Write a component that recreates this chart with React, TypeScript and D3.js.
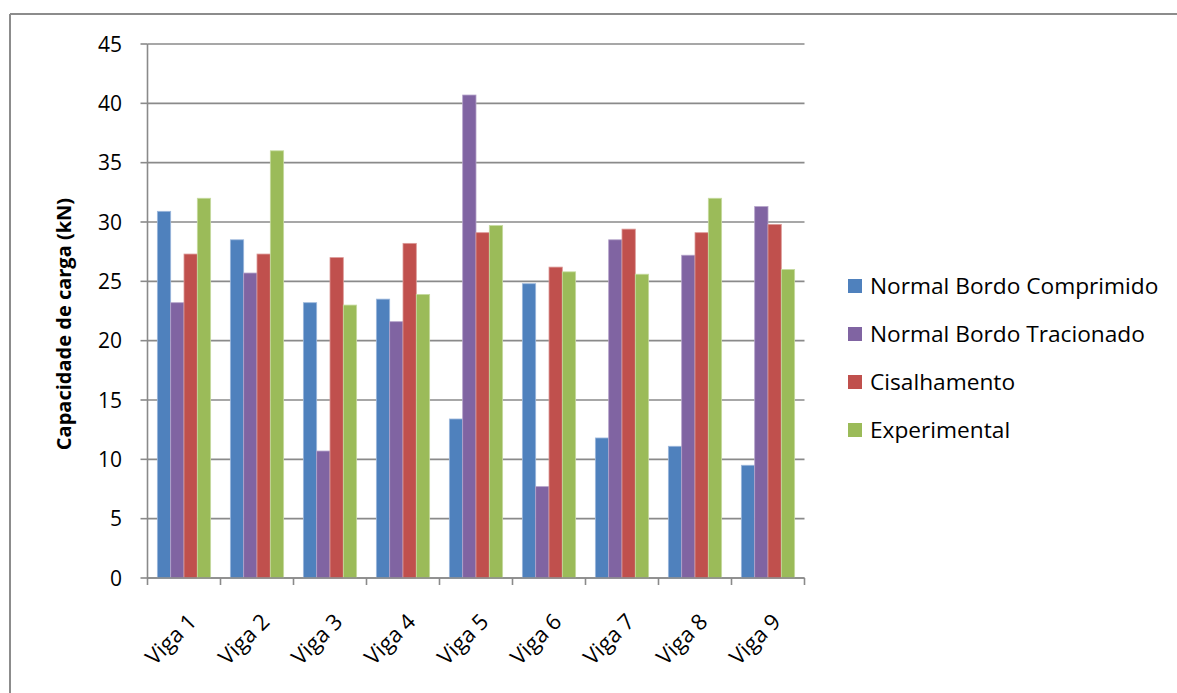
import React from "react";
import * as d3 from "d3";

const categories = ["Viga 1", "Viga 2", "Viga 3", "Viga 4", "Viga 5", "Viga 6", "Viga 7", "Viga 8", "Viga 9"];
const seriesNames = ["Normal Bordo Comprimido", "Normal Bordo Tracionado", "Cisalhamento", "Experimental"];
const normalComprimido = [30.9, 28.5, 23.2, 23.5, 13.4, 24.8, 11.8, 11.1, 9.5];
const normalTracionado = [23.2, 25.7, 10.7, 21.6, 40.7, 7.7, 28.5, 27.2, 31.3];
const cisalhamento = [27.3, 27.3, 27.0, 28.2, 29.1, 26.2, 29.4, 29.1, 29.8];
const experimental = [32.0, 36.0, 23.0, 23.9, 29.7, 25.8, 25.6, 32.0, 26.0];
const yTicks = [0, 5, 10, 15, 20, 25, 30, 35, 40, 45];
const colors = ["#4F81BD", "#8064A2", "#C0504D", "#9BBB59"];
const strokes = ["#9db8dc", "#b3a2c9", "#dc9a98", "#c6dba0"];
const yTitle = "Capacidade de carga (kN)";

const W = 1177;
const H = 693;
const FONT = "'Open Sans', 'DejaVu Sans', sans-serif";

export default function App() {
  const seriesValues = [normalComprimido, normalTracionado, cisalhamento, experimental];
  const x = d3.scaleBand<string>().domain(categories).range([147.5, 804.5]).padding(0);
  const inner = d3
    .scaleBand<number>()
    .domain(d3.range(seriesNames.length))
    .range([0, x.bandwidth()])
    .paddingInner(0)
    .paddingOuter(0.74);
  const y = d3.scaleLinear().domain([0, 45]).range([578, 44]);
  const left = 147.5;
  const right = 804.5;
  const bottom = y(0);

  return (
    <svg
      width={W}
      height={H}
      style={{ position: "absolute", left: 0, top: 0, background: "#fff" }}
      fontFamily={FONT}
    >
      <rect x={0} y={0} width={W} height={H} fill="#fff" />
      {/* outer frame */}
      <line x1={10} y1={14} x2={W} y2={14} stroke="#8c8c8c" strokeWidth={2} />
      <line x1={10} y1={14} x2={10} y2={H} stroke="#8c8c8c" strokeWidth={2} />

      {/* gridlines */}
      {yTicks.map((t) => (
        <line key={"g" + t} x1={left} x2={right} y1={y(t)} y2={y(t)} stroke="#8a8a8a" strokeWidth={1.6} />
      ))}

      {/* bars */}
      {categories.map((c, ci) => (
        <g key={c} transform={`translate(${x(c)},0)`}>
          {seriesValues.map((vals, si) => (
            <rect
              key={si}
              x={inner(si)!}
              y={y(vals[ci])}
              width={inner.bandwidth()}
              height={bottom - y(vals[ci])}
              fill={colors[si]}
              stroke={strokes[si]}
              strokeWidth={0.8}
            />
          ))}
        </g>
      ))}

      {/* y axis */}
      <line x1={left} x2={left} y1={y(45)} y2={bottom} stroke="#8a8a8a" strokeWidth={1.6} />
      {yTicks.map((t) => (
        <g key={"yt" + t}>
          <line x1={left - 7} x2={left} y1={y(t)} y2={y(t)} stroke="#8a8a8a" strokeWidth={1.6} />
          <text x={122} y={y(t)} dy="0.36em" textAnchor="end" fontSize={21} fill="#000">
            {t}
          </text>
        </g>
      ))}

      {/* x axis */}
      <line x1={left} x2={right} y1={bottom} y2={bottom} stroke="#8a8a8a" strokeWidth={1.6} />
      {[...categories.map((c) => x(c)!), right].map((px, i) => (
        <line key={"xt" + i} x1={px} x2={px} y1={bottom} y2={bottom + 7} stroke="#8a8a8a" strokeWidth={1.6} />
      ))}
      {categories.map((c) => {
        const cx = x(c)! + x.bandwidth() / 2;
        const ax = cx + 14;
        const ay = bottom + 45;
        return (
          <text
            key={"xl" + c}
            x={ax}
            y={ay}
            textAnchor="end"
            fontSize={22}
            fill="#000"
            transform={`rotate(-45,${ax},${ay})`}
          >
            {c}
          </text>
        );
      })}

      {/* y title */}
      <text
        transform={`translate(71,${(y(0) + y(45)) / 2 + 13}) rotate(-90)`}
        textAnchor="middle"
        fontSize={20}
        fontWeight="bold"
        fill="#000"
      >
        {yTitle}
      </text>

      {/* legend */}
      {seriesNames.map((n, i) => {
        const ry = 286 + i * 48;
        return (
          <g key={n}>
            <rect x={848} y={ry - 7} width={14} height={14} fill={colors[i]} />
            <text x={870} y={ry} dy="0.36em" fontSize={22.7} fill="#000">
              {n}
            </text>
          </g>
        );
      })}
    </svg>
  );
}
